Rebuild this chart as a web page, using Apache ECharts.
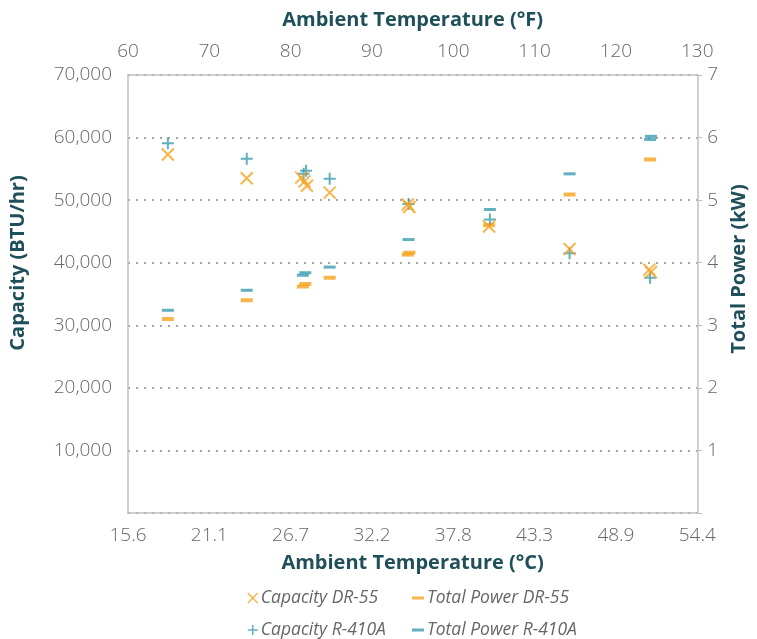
<!DOCTYPE html>
<html>
<head>
<meta charset="utf-8">
<script src="https://cdn.jsdelivr.net/npm/echarts@6/dist/echarts.min.js"></script>
<style>html,body{margin:0;padding:0;background:#fff}#c{width:757px;height:639px}</style>
</head>
<body>
<div id="c"></div>
<script>
// Ambient temperature (°F) of each measurement, per series
const capDR55Temp = [64.9, 74.6, 81.3, 81.7, 82.0, 84.8, 94.4, 94.6, 104.4, 114.3, 124.1, 124.3];
const capDR55 =     [57300, 53500, 53600, 53000, 52300, 51200, 49300, 48900, 45800, 42200, 38900, 38500];
const powDR55Temp = [64.9, 74.6, 81.5, 81.8, 84.8, 94.4, 94.6, 104.4, 114.3, 124.2];
const powDR55 =     [3.10, 3.40, 3.62, 3.66, 3.76, 4.13, 4.16, 4.60, 5.09, 5.65];
const capR410Temp = [64.9, 74.6, 81.6, 81.9, 84.8, 94.5, 104.5, 114.3, 124.2];
const capR410 =     [59100, 56600, 54200, 54700, 53400, 49400, 46900, 41500, 37600];
const powR410Temp = [64.9, 74.6, 81.5, 81.8, 84.8, 94.5, 104.5, 114.3, 124.2, 124.3];
const powR410 =     [3.24, 3.56, 3.80, 3.84, 3.93, 4.37, 4.85, 5.42, 5.97, 6.02];
const xTicksF = [60, 70, 80, 90, 100, 110, 120, 130];
const seriesNames = ['Capacity DR-55', 'Total Power DR-55', 'Capacity R-410A', 'Total Power R-410A'];

const ORANGE = '#F5A21F', TEAL = '#3A9BAF', TITLE = '#1F4F5A', LBL = '#666666', AX = '#bfbfbf';
const X_PATH = 'path://M0,0L10,10M0,10L10,0';
const P_PATH = 'path://M5,0L5,10M0,5L10,5';
const zip = (a, b) => a.map((v, i) => [v, b[i]]);

const tickFont = {fontFamily: 'Open Sans', fontSize: 19, fontWeight: 300, color: LBL};
const titleFont = {fontFamily: 'Open Sans', fontSize: 20, fontWeight: 'bold', color: TITLE};
const fToC = v => ((v - 32) * 5 / 9).toFixed(1);

function legend(name, left, top, icon, style) {
  return {
    left: left, top: top, orient: 'horizontal', itemWidth: icon === 'rect' ? 12 : 10,
    itemHeight: icon === 'rect' ? 3 : 10, itemGap: 4,
    data: [{name: name, icon: icon, itemStyle: style}],
    textStyle: {fontFamily: 'Open Sans', fontSize: 17.5, fontStyle: 'italic', color: LBL, padding: [0, 0, 0, -2]},
    selectedMode: false
  };
}

const chart = echarts.init(document.getElementById('c'), null, {renderer: 'canvas'});
chart.setOption({
  animation: false,
  backgroundColor: '#fff',
  grid: {left: 128, right: 53, top: 75, bottom: 126, containLabel: false},
  xAxis: [{
    type: 'value', position: 'bottom', min: xTicksF[0], max: xTicksF[xTicksF.length - 1], interval: 10,
    name: 'Ambient Temperature (°C)', nameLocation: 'middle', nameGap: 40, nameTextStyle: titleFont,
    axisLine: {show: true, lineStyle: {color: AX, width: 1.5}}, axisTick: {show: false},
    axisLabel: Object.assign({margin: 13, formatter: fToC}, tickFont), splitLine: {show: false}
  }, {
    type: 'value', position: 'top', min: xTicksF[0], max: xTicksF[xTicksF.length - 1], interval: 10,
    name: 'Ambient Temperature (°F)', nameLocation: 'middle', nameGap: 45, nameTextStyle: titleFont,
    axisLine: {show: true, onZero: false, lineStyle: {color: AX, width: 1.5}}, axisTick: {show: false},
    axisLabel: Object.assign({margin: 14}, tickFont), splitLine: {show: false}
  }],
  yAxis: [{
    type: 'value', position: 'left', min: 0, max: 70000, interval: 10000,
    name: 'Capacity (BTU/hr)', nameLocation: 'middle', nameGap: 100,
    nameTextStyle: Object.assign({padding: [0, 0, 0, 62]}, titleFont),
    axisLine: {show: true, lineStyle: {color: AX, width: 1.5}}, axisTick: {show: false},
    axisLabel: Object.assign({margin: 16, formatter: v => v === 0 ? '' : v.toLocaleString('en-US')}, tickFont),
    splitLine: {show: true, lineStyle: {color: '#a6a6a6', width: 2, type: [2, 6]}}
  }, {
    type: 'value', position: 'right', min: 0, max: 7, interval: 1,
    name: 'Total Power (kW)', nameLocation: 'middle', nameGap: 31,
    nameTextStyle: Object.assign({padding: [0, 0, 0, 50]}, titleFont),
    axisLine: {show: true, lineStyle: {color: AX, width: 1.5}}, axisTick: {show: true, length: 5, lineStyle: {color: AX}},
    axisLabel: Object.assign({margin: 10, formatter: v => v === 0 ? '' : String(v)}, tickFont),
    splitLine: {show: false}
  }],
  legend: [
    legend(seriesNames[0], 242, 584, X_PATH, {color: 'transparent', borderColor: ORANGE, borderWidth: 1.5}),
    legend(seriesNames[1], 407, 584, 'rect', {color: ORANGE, borderWidth: 0}),
    legend(seriesNames[2], 242, 616, P_PATH, {color: 'transparent', borderColor: TEAL, borderWidth: 1.5}),
    legend(seriesNames[3], 407, 616, 'rect', {color: TEAL, borderWidth: 0})
  ],
  series: [{
    name: seriesNames[0], type: 'scatter', xAxisIndex: 0, yAxisIndex: 0,
    symbol: X_PATH, symbolSize: 12, data: zip(capDR55Temp, capDR55),
    itemStyle: {color: 'transparent', borderColor: ORANGE, borderWidth: 2}, z: 3
  }, {
    name: seriesNames[1], type: 'scatter', xAxisIndex: 0, yAxisIndex: 1,
    symbol: 'rect', symbolSize: [12, 4], data: zip(powDR55Temp, powDR55),
    itemStyle: {color: ORANGE}, z: 2
  }, {
    name: seriesNames[2], type: 'scatter', xAxisIndex: 0, yAxisIndex: 0,
    symbol: P_PATH, symbolSize: 12, data: zip(capR410Temp, capR410),
    itemStyle: {color: 'transparent', borderColor: TEAL, borderWidth: 2}, z: 2
  }, {
    name: seriesNames[3], type: 'scatter', xAxisIndex: 0, yAxisIndex: 1,
    symbol: 'rect', symbolSize: [12, 3], data: zip(powR410Temp, powR410),
    itemStyle: {color: TEAL}, z: 2
  }]
});
</script>
</body>
</html>
